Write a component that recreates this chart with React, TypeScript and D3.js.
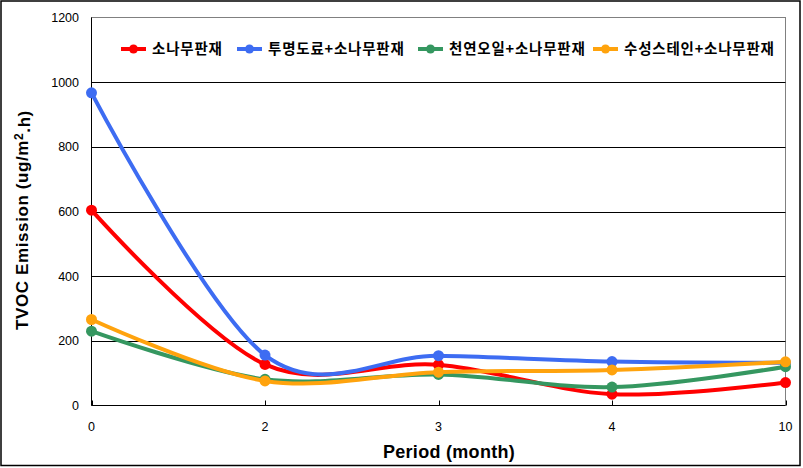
import * as d3 from 'd3';
import React, { useEffect, useRef } from 'react';

// chart data
const periods = ['0', '2', '3', '4', '10'];
const seriesNames = ['소나무판재', '투명도료+소나무판재', '천연오일+소나무판재', '수성스테인+소나무판재'];
const pine = [604, 127, 126, 35, 71];
const clearCoat = [967, 156, 154, 136, 132];
const naturalOil = [230, 81, 96, 57, 120];
const waterStain = [266, 76, 103, 110, 135];
const seriesColors = ['#ff0000', '#3d6cf2', '#359760', '#ffa30d'];
const yTicks = [0, 200, 400, 600, 800, 1000, 1200];

const W = 803;
const H = 468;

export default function App() {
    const ref = useRef<SVGSVGElement>(null);

    useEffect(() => {
        const svg = d3.select(ref.current);
        svg.selectAll('*').remove();

        const seriesValues = [pine, clearCoat, naturalOil, waterStain];

        // plot area bounds
        const left = 91.5, right = 785.5, top = 17.5, bottom = 405.5;

        const x = d3.scalePoint<string>()
            .domain(periods)
            .range([left, right]);

        const y = d3.scaleLinear()
            .domain([0, 1200])
            .range([bottom, top]);

        // outer frame
        svg.append('rect')
            .attr('x', 1).attr('y', 1)
            .attr('width', 799).attr('height', 464.5)
            .attr('fill', 'white')
            .attr('stroke', 'black')
            .attr('stroke-width', 1.5);

        // plot border (gray top/right)
        svg.append('rect')
            .attr('x', left).attr('y', top)
            .attr('width', right - left).attr('height', bottom - top)
            .attr('fill', 'none')
            .attr('stroke', '#808080')
            .attr('stroke-width', 1);

        // gridlines
        svg.append('g')
            .selectAll('line')
            .data(yTicks.filter(d => d > 0 && d < 1200))
            .enter()
            .append('line')
                .attr('x1', left).attr('x2', right)
                .attr('y1', d => Math.round(y(d)) + 0.5)
                .attr('y2', d => Math.round(y(d)) + 0.5)
                .attr('stroke', 'black')
                .attr('stroke-width', 1);

        // axes lines
        svg.append('line')
            .attr('x1', left).attr('x2', left)
            .attr('y1', top).attr('y2', bottom)
            .attr('stroke', 'black');
        svg.append('line')
            .attr('x1', left).attr('x2', right)
            .attr('y1', bottom).attr('y2', bottom)
            .attr('stroke', 'black');

        // x ticks (inside)
        svg.append('g')
            .selectAll('line')
            .data(periods)
            .enter()
            .append('line')
                .attr('x1', d => Math.round(x(d)!) + 0.5)
                .attr('x2', d => Math.round(x(d)!) + 0.5)
                .attr('y1', bottom - 5).attr('y2', bottom)
                .attr('stroke', 'black');

        // tick labels
        svg.append('g')
            .selectAll('text')
            .data(yTicks)
            .enter()
            .append('text')
                .attr('x', 79)
                .attr('y', d => y(d))
                .attr('dy', '0.35em')
                .attr('text-anchor', 'end')
                .attr('font-family', 'Liberation Sans, Arial, sans-serif')
                .attr('font-size', 12.5)
                .attr('fill', 'black')
                .text(d => d);

        svg.append('g')
            .selectAll('text')
            .data(periods)
            .enter()
            .append('text')
                .attr('x', d => x(d)!)
                .attr('y', 427)
                .attr('dy', '0.35em')
                .attr('text-anchor', 'middle')
                .attr('font-family', 'Liberation Sans, Arial, sans-serif')
                .attr('font-size', 12.5)
                .attr('fill', 'black')
                .text(d => d);

        // axis titles
        svg.append('text')
            .attr('x', 449)
            .attr('y', 452)
            .attr('dy', '0.35em')
            .attr('text-anchor', 'middle')
            .attr('font-family', 'Liberation Sans, Arial, sans-serif')
            .attr('font-weight', 'bold')
            .attr('font-size', 18)
            .attr('letter-spacing', 0.3)
            .text('Period (month)');

        const yTitle = svg.append('text')
            .attr('transform', 'translate(22,220) rotate(-90)')
            .attr('dy', '0.35em')
            .attr('text-anchor', 'middle')
            .attr('font-family', 'Liberation Sans, Arial, sans-serif')
            .attr('font-weight', 'bold')
            .attr('font-size', 17)
            .attr('letter-spacing', 0.6);
        yTitle.append('tspan').text('TVOC Emission (ug/m');
        yTitle.append('tspan').attr('dy', '-0.4em').attr('font-size', 12).text('2');
        yTitle.append('tspan').attr('dy', '0.4em').text('.h)');

        // series lines and markers
        const line = d3.line<number>()
            .x((d, i) => x(periods[i])!)
            .y(d => y(d))
            .curve(d3.curveCardinal.tension(0));

        seriesValues.forEach((vals, s) => {
            svg.append('path')
                .datum(vals)
                .attr('d', line)
                .attr('fill', 'none')
                .attr('stroke', seriesColors[s])
                .attr('stroke-width', 4)
                .attr('stroke-linejoin', 'round');

            svg.append('g')
                .selectAll('circle')
                .data(vals)
                .enter()
                .append('circle')
                    .attr('cx', (d, i) => x(periods[i])!)
                    .attr('cy', d => y(d))
                    .attr('r', 5.5)
                    .attr('fill', seriesColors[s]);
        });

        // legend
        const legendX = [121, 237, 418, 593];
        const legendY = 49;
        const legend = svg.append('g')
            .selectAll('g')
            .data(seriesNames)
            .enter()
            .append('g')
                .attr('transform', (d, i) => `translate(${legendX[i]},${legendY})`);

        legend.append('line')
            .attr('x1', 0).attr('x2', 25)
            .attr('stroke', (d, i) => seriesColors[i])
            .attr('stroke-width', 4);
        legend.append('circle')
            .attr('cx', 12.5)
            .attr('r', 4.5)
            .attr('fill', (d, i) => seriesColors[i]);
        legend.append('text')
            .attr('x', 31)
            .attr('dy', '0.36em')
            .attr('font-family', 'Noto Sans CJK KR, sans-serif')
            .attr('font-weight', 'bold')
            .attr('font-size', 14.5)
            .attr('letter-spacing', 0.8)
            .text(d => d);
    }, []);

    return (
        <svg ref={ref} width={W} height={H}
            style={{ position: 'absolute', left: 0, top: 0, background: 'white' }} />
    );
}
